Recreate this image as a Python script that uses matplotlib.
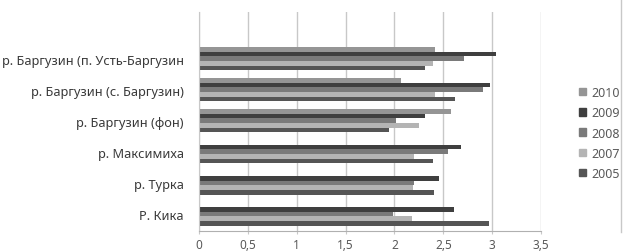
import matplotlib
matplotlib.use("Agg")
import matplotlib.pyplot as plt
from matplotlib.patches import Patch
from matplotlib.lines import Line2D
import numpy as np

plt.rcParams["font.family"] = ["Noto Sans", "DejaVu Sans"]

categories = ["Р. Кика", "р. Турка", "р. Максимиха", "р. Баргузин (фон)",
              "р. Баргузин (с. Баргузин)", "р. Баргузин (п. Усть-Баргузин"]
years = ["2010", "2009", "2008", "2007", "2005"]
# values listed bottom category -> top category
v2010 = [np.nan, np.nan, np.nan, 2.58, 2.07, 2.42]
v2009 = [2.61, 2.46, 2.68, 2.31, 2.98, 3.04]
v2008 = [1.99, 2.20, 2.55, 2.02, 2.91, 2.71]
v2007 = [2.18, 2.19, 2.20, 2.25, 2.42, 2.39]
v2005 = [2.97, 2.40, 2.39, 1.94, 2.62, 2.31]
series = [v2010, v2009, v2008, v2007, v2005]
colors = ["#959595", "#3f3f3f", "#7a7a7a", "#b4b4b4", "#555555"]

fig = plt.figure(figsize=(6.24, 2.53), dpi=100)
ax = fig.add_axes([199/624, 1 - 232/253, (541 - 199)/624, (232 - 13)/253])

y = np.arange(len(categories))
h = 0.15
for i, vals in enumerate(series):
    off = (2 - i) * h
    ax.barh(y + off, vals, height=h, color=colors[i], zorder=2)

ax.set_xlim(0, 3.5)
ax.set_ylim(-0.55, 6.5)
ticks = np.arange(0, 3.51, 0.5)
ax.set_xticks(ticks)
ax.set_xticklabels([("%g" % t).replace(".", ",") for t in ticks],
                   fontsize=8.5, color="#595959")
ax.set_yticks(y)
ax.set_yticklabels(categories, fontsize=9.2, color="#3a3a3a")
ax.tick_params(axis="y", length=0, pad=11)
ax.tick_params(axis="x", length=2, color="#c8c8c8", pad=3)
ax.grid(axis="x", color="#c8c8c8", linewidth=1, zorder=0)
for s in ["top", "right"]:
    ax.spines[s].set_visible(False)
ax.spines["left"].set_color("#c8c8c8")
ax.spines["bottom"].set_color("#b0b0b0")

handles = [Patch(color=c, label=yr) for c, yr in zip(colors, years)]
fig.legend(handles=handles, loc="upper left", bbox_to_anchor=(574/624, 1 - 82/253),
           frameon=False, fontsize=9, labelcolor="#595959",
           handlelength=0.55, handleheight=0.55, handletextpad=0.45,
           labelspacing=0.58, borderaxespad=0)

fig.add_artist(Line2D([621/624, 621/624], [1 - 233/253, 1.0], color="#c8c8c8",
                      linewidth=1, transform=fig.transFigure))

fig.savefig("out.png", dpi=100)
